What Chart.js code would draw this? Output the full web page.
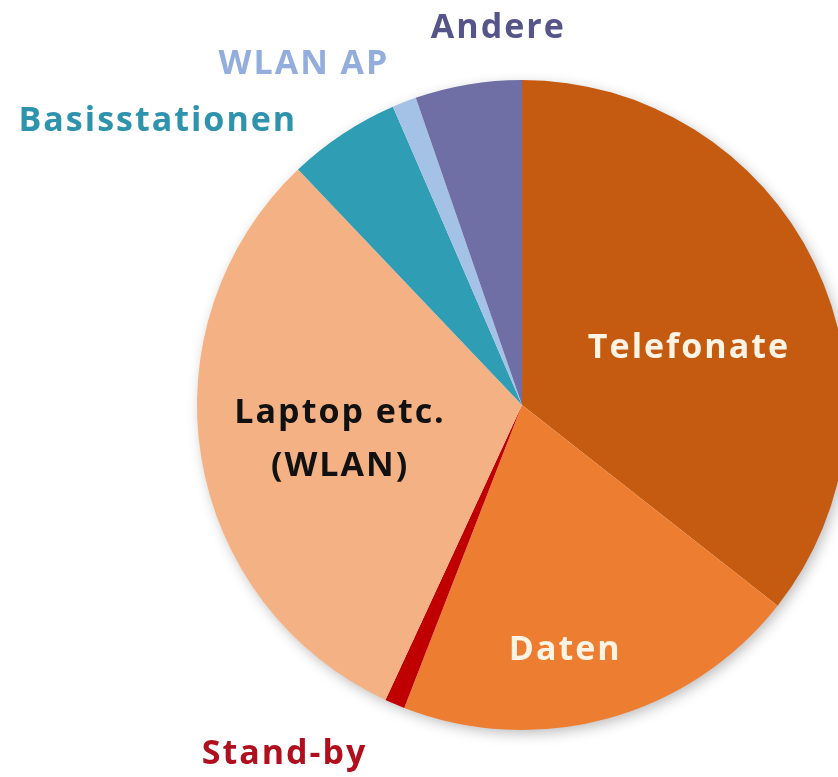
<!DOCTYPE html>
<html>
<head>
<meta charset="utf-8">
<script src="https://cdn.jsdelivr.net/npm/chart.js@4.4.0/dist/chart.umd.min.js"></script>
<style>
  html, body { margin: 0; padding: 0; background: #ffffff; overflow: hidden; }
  #wrap { width: 838px; height: 777px; overflow: hidden; position: relative; }
  #chart { display: block; }
</style>
</head>
<body>
<div id="wrap"><canvas id="chart" width="900" height="777"></canvas></div>
<script>
// Anteile in Prozent, im Uhrzeigersinn ab 12 Uhr
var categories = ["Telefonate", "Daten", "Stand-by", "Laptop etc. (WLAN)", "Basisstationen", "WLAN AP", "Andere"];
var shares = [35.6, 20.3, 1.0, 31.0, 5.6, 1.2, 5.3];
var labelLines = [["Telefonate"], ["Daten"], ["Stand-by"], ["Laptop etc.", "(WLAN)"], ["Basisstationen"], ["WLAN AP"], ["Andere"]];

var sliceColors = ['#C55A11', '#ED7D31', '#C00000', '#F4B183', '#2F9DB3', '#A3C2E6', '#6F6FA6'];
var textColors = ['#FFF3E3', '#FFF3E3', '#B0101E', '#111111', '#2E93AC', '#93AEDD', '#55558A'];
// Position der Beschriftung: Winkel (Grad, ab 12 Uhr im Uhrzeigersinn) und Abstand relativ zum Radius
var labelAngle = [71.1, 170, 214.2, 259.1, 307.9, 327.4, 356.4];
var labelDist = [0.543, 0.766, 1.30, 0.57, 1.42, 1.245, 1.16];

var shadowPlugin = {
    id: 'pieShadow',
    beforeDatasetsDraw: function (chart) {
        var arc = chart.getDatasetMeta(0).data[0];
        if (!arc) return;
        var ctx = chart.ctx;
        ctx.save();
        ctx.shadowColor = 'rgba(0,0,0,0.28)';
        ctx.shadowBlur = 14;
        ctx.shadowOffsetX = 3;
        ctx.shadowOffsetY = 4;
        ctx.fillStyle = '#ffffff';
        ctx.beginPath();
        ctx.arc(arc.x, arc.y, arc.outerRadius - 1, 0, Math.PI * 2);
        ctx.fill();
        ctx.restore();
    }
};

var labelPlugin = {
    id: 'sliceLabels',
    afterDatasetsDraw: function (chart) {
        var arcs = chart.getDatasetMeta(0).data;
        var ctx = chart.ctx;
        ctx.save();
        ctx.font = "bold 34px 'Open Sans'";
        ctx.letterSpacing = "2px";
        ctx.textAlign = 'center';
        ctx.textBaseline = 'middle';
        for (var i = 0; i < arcs.length; i++) {
            var a = arcs[i];
            var ang = labelAngle[i] * Math.PI / 180;
            var r = a.outerRadius * labelDist[i];
            var x = a.x + Math.sin(ang) * r;
            var y = a.y - Math.cos(ang) * r;
            var lines = labelLines[i];
            var lh = 53;
            ctx.fillStyle = textColors[i];
            for (var j = 0; j < lines.length; j++) {
                var ly = y + (j - (lines.length - 1) / 2) * lh;
                ctx.fillText(lines[j], x, ly);
            }
        }
        ctx.restore();
    }
};

var ctx = document.getElementById("chart").getContext("2d");
var chart = new Chart(ctx, {
    type: 'pie',
    data: {
        labels: categories,
        datasets: [{
            data: shares,
            backgroundColor: sliceColors,
            borderWidth: 0
        }]
    },
    options: {
        responsive: false,
        animation: false,
        layout: { padding: { left: 197, right: 53, top: 80, bottom: 47 } },
        plugins: {
            legend: { display: false },
            tooltip: { enabled: false }
        }
    },
    plugins: [shadowPlugin, labelPlugin]
});
</script>
</body>
</html>
